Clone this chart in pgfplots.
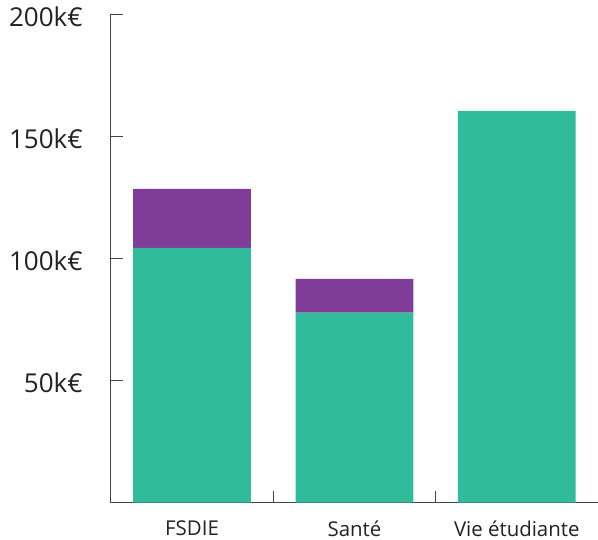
\documentclass[border=0pt]{standalone}
\usepackage{pgfplots}
\pgfplotsset{compat=1.18}
\usepackage{fontspec}
\setmainfont{Open Sans}
\definecolor{vert}{HTML}{30BC9A}
\definecolor{violet}{HTML}{7F3D97}
\definecolor{axe}{HTML}{444444}
\definecolor{texte}{HTML}{222222}

\begin{document}
\begin{tikzpicture}
\begin{axis}[
    scale only axis,
    width=487pt, height=488pt,
    ybar stacked,
    bar width=0.725,
    xmin=-0.5, xmax=2.5,
    ymin=0, ymax=200,
    axis x line=bottom,
    axis y line=left,
    axis line style={-, draw=axe, line width=1pt},
    tick style={draw=axe, line width=1pt},
    tick align=inside,
    xtick={0,1,2},
    xticklabels={FSDIE, Santé, Vie étudiante},
    major x tick style={draw=none},
    minor xtick={0.5,1.5,2.5},
    minor tick length=12pt,
    major tick length=12pt,
    ytick={50,100,150,200},
    yticklabels={50k€, 100k€, 150k€, 200k€},
    /pgf/number format/assume math mode=true,
    xticklabel style={font=\fontsize{20.4}{24}\selectfont, text=texte, inner sep=0pt, anchor=north, yshift=-18pt},
    yticklabel style={font=\fontsize{26}{31}\selectfont, text=texte, inner sep=0pt, anchor=east, xshift=-28pt, yshift=-2pt},
]
\addplot[fill=vert, draw=none] coordinates {(0,104.4) (1,77.9) (2,160.5)};
\addplot[fill=violet, draw=none] coordinates {(0,24.2) (1,13.8) (2,0)};
\coordinate (bas) at (rel axis cs:0,0);
\coordinate (haut) at (rel axis cs:1,1);
\end{axis}
\pgfresetboundingbox
\path ([xshift=-110.8pt, yshift=-37.3pt]bas) rectangle ([yshift=14.5pt]haut);
\end{tikzpicture}
\end{document}
